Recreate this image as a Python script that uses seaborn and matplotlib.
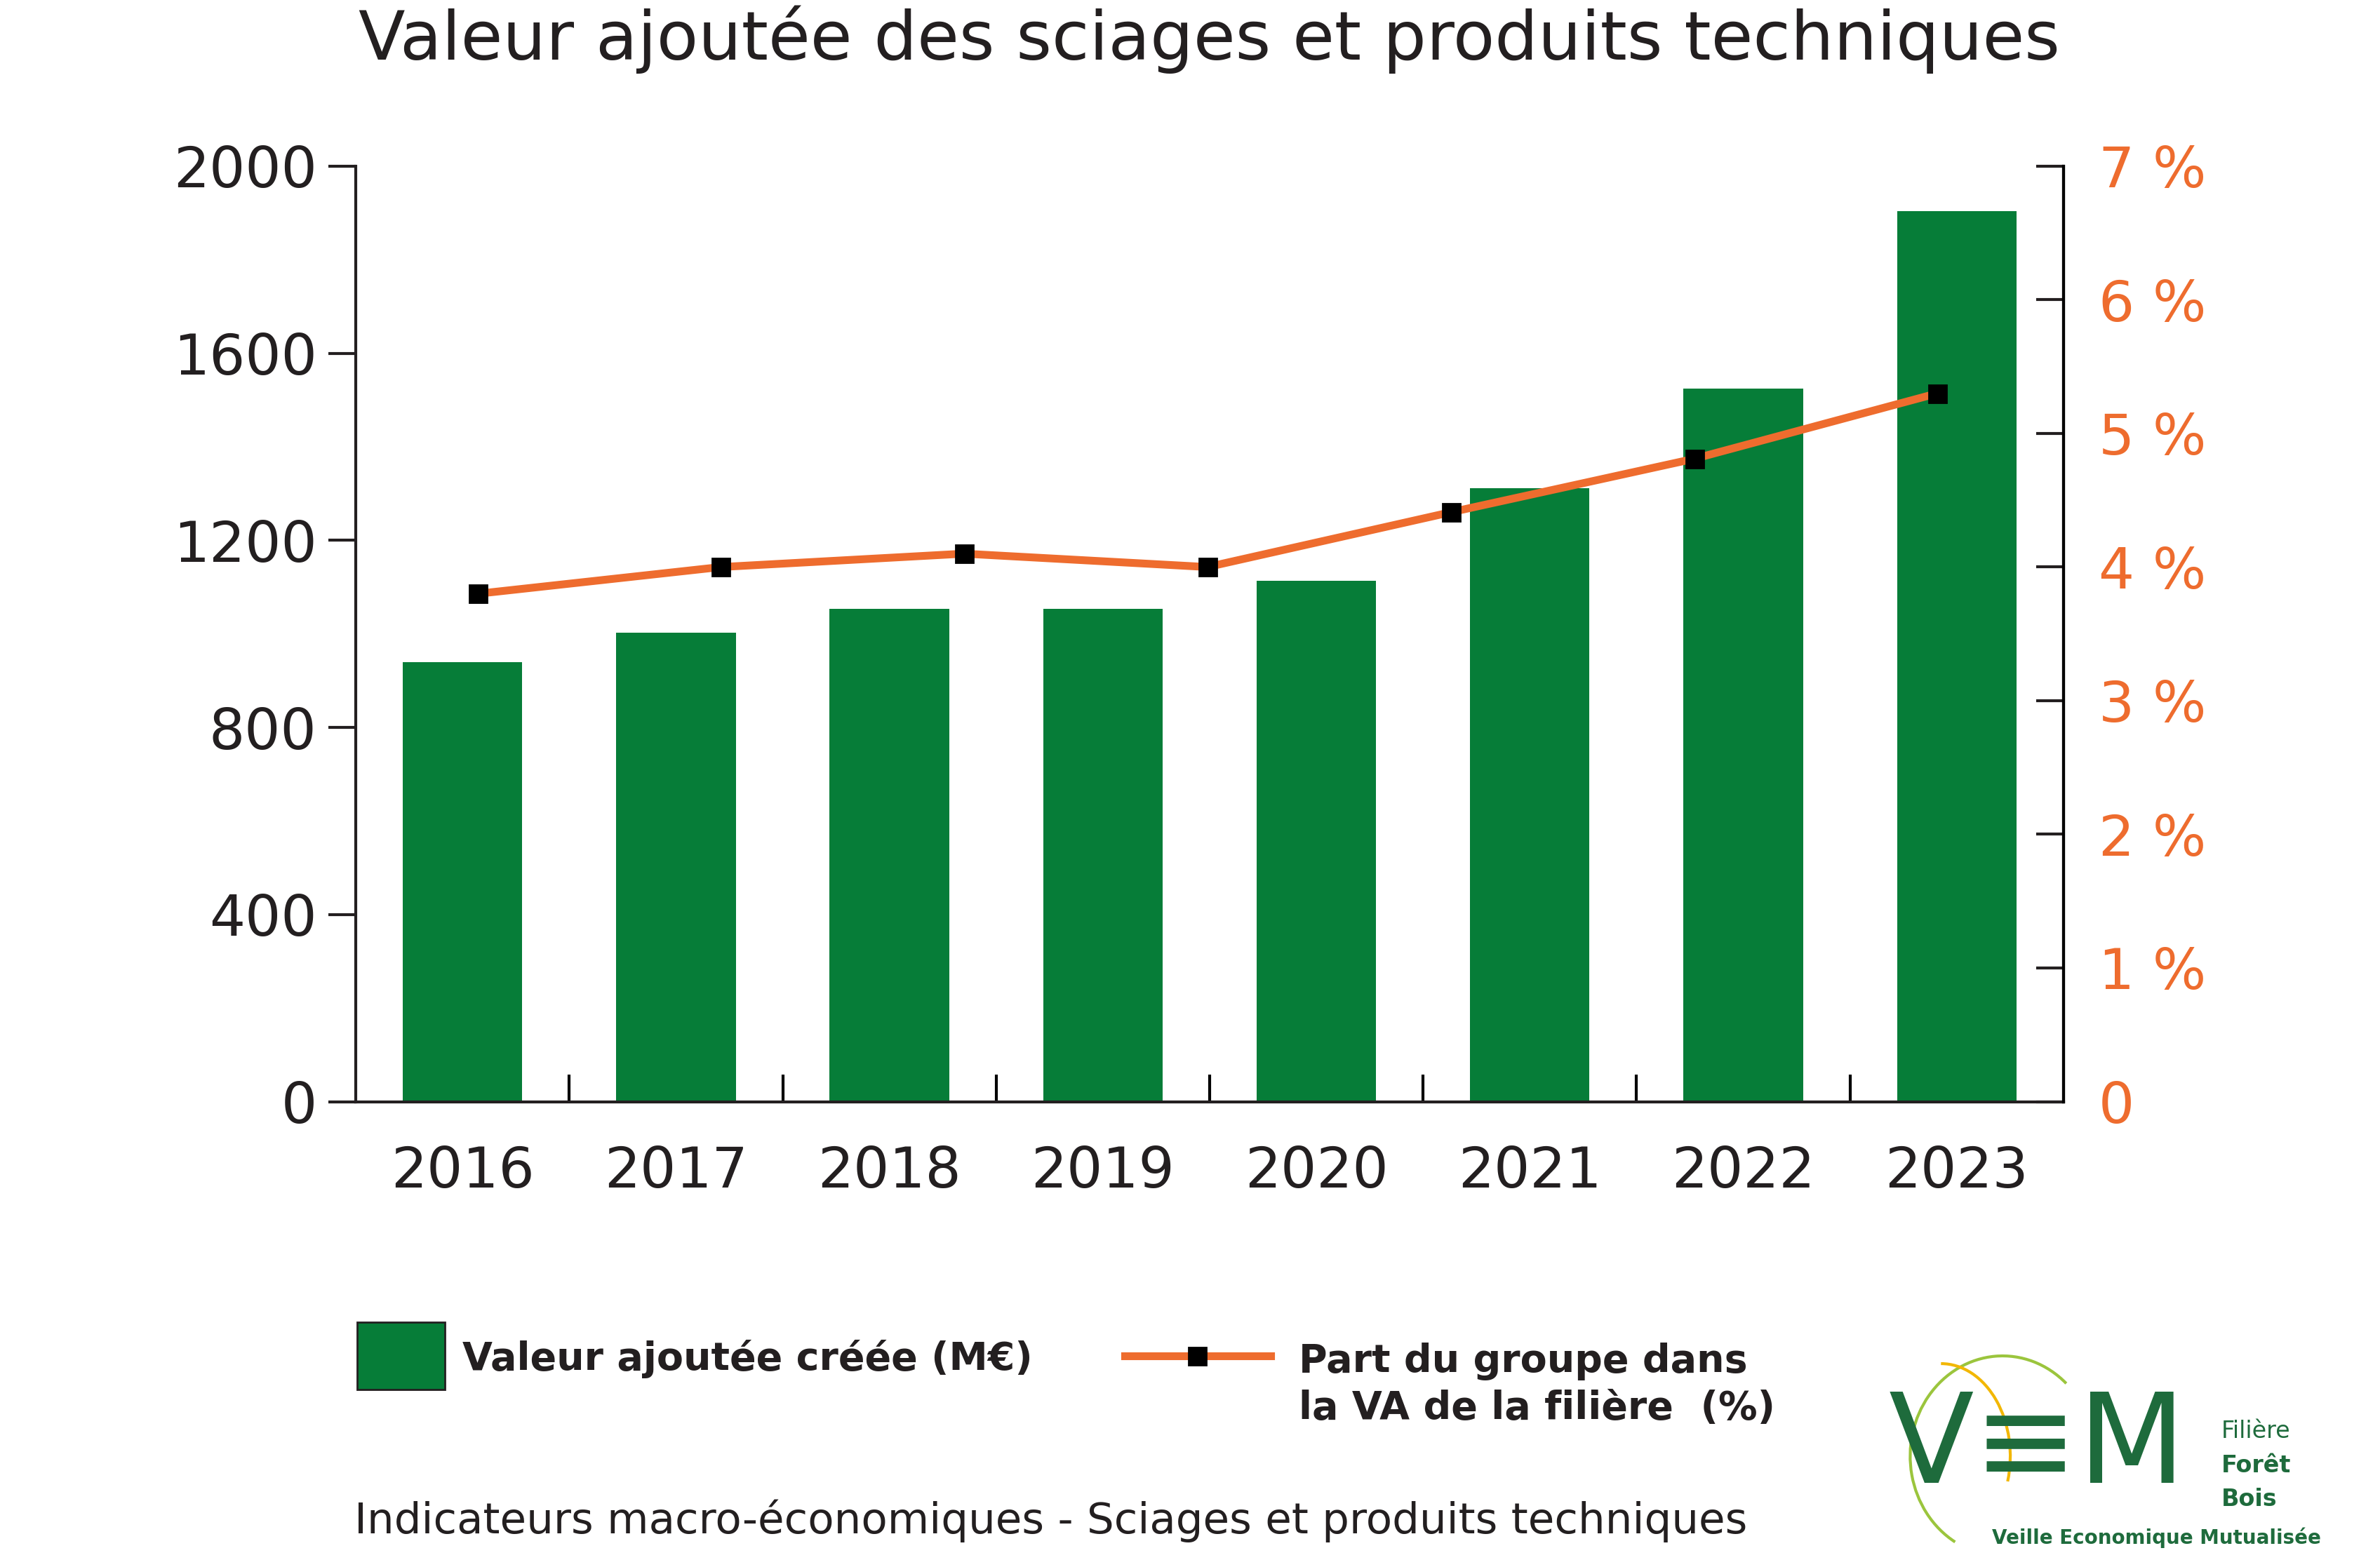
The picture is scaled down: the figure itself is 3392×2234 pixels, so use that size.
import matplotlib
matplotlib.use("Agg")
import matplotlib.pyplot as plt
import seaborn as sns
import numpy as np
import pandas as pd
from matplotlib.patches import Rectangle, Arc
from matplotlib.lines import Line2D

years = ["2016", "2017", "2018", "2019", "2020", "2021", "2022", "2023"]
va_values = [939, 1002, 1054, 1054, 1114, 1311, 1525, 1904]
share_values = [3.80, 4.00, 4.10, 4.00, 4.41, 4.81, 5.30]
pct_ticks = ["0", "1 %", "2 %", "3 %", "4 %", "5 %", "6 %", "7 %"]

GREEN = "#067D38"
ORANGE = "#EE6C2E"
DARK = "#231F20"
plt.rcParams["font.family"] = "DejaVu Sans"

fig = plt.figure(figsize=(16.96, 11.17), dpi=200)
ax = fig.add_axes([0.1495, 0.297, 0.7175, 0.597])

df = pd.DataFrame({"year": years, "va": va_values})
sns.barplot(data=df, x="year", y="va", color=GREEN, saturation=1, width=0.56, ax=ax)
ax.set_xlim(-0.5, 7.5)
ax.set_ylim(0, 2000)
ax.set_yticks([0, 400, 800, 1200, 1600, 2000])
ax.tick_params(axis="y", labelsize=29, length=14, width=1.5, colors=DARK, pad=6)
ax.tick_params(axis="x", labelsize=29, length=0, pad=22, colors=DARK)
ax.set_xticks(np.arange(0.5, 7, 1), minor=True)
ax.tick_params(axis="x", which="minor", direction="in", length=14, width=1.5)
ax.set_xlabel("")
ax.set_ylabel("")
ax.spines["top"].set_visible(False)
for s in ["left", "bottom", "right"]:
    ax.spines[s].set_linewidth(1.5)
    ax.spines[s].set_color(DARK)

ax2 = ax.twinx()
xs = np.linspace(0.07, 6.91, len(share_values))
ax2.plot(xs, share_values, color=ORANGE, lw=4, marker="s", ms=9,
         mfc="black", mec="black", zorder=5)
ax2.set_ylim(0, 7)
ax2.set_yticks(range(8))
ax2.set_yticklabels(pct_ticks)
ax2.tick_params(axis="y", direction="in", length=14, width=1.5, labelsize=29,
                labelcolor=ORANGE, color=DARK, pad=18)
for s in ["top", "left", "bottom"]:
    ax2.spines[s].set_visible(False)
ax2.spines["right"].set_linewidth(1.5)

fig.text(0.508, 0.975, "Valeur ajoutée des sciages et produits techniques",
         ha="center", va="center", fontsize=35, color=DARK)

# legend
fig.patches.append(Rectangle((232/1545, 1-902/1017), 57/1545, 44/1017,
                             transform=fig.transFigure, facecolor=GREEN,
                             edgecolor=DARK, lw=1))
fig.text(300/1545, 1-882/1017, "Valeur ajoutée créée (M€)", fontsize=20,
         fontweight="bold", color=DARK, va="center")
fig.lines.append(Line2D([730/1545, 825/1545], [1-880/1017]*2, transform=fig.transFigure,
                        color=ORANGE, lw=4))
fig.lines.append(Line2D([777/1545], [1-880/1017], transform=fig.transFigure,
                        marker="s", ms=9, color="black"))
fig.text(843/1545, 1-899/1017, "Part du groupe dans\nla VA de la filière  (%)",
         fontsize=20, fontweight="bold", color=DARK, va="center", linespacing=1.3)
fig.text(230/1545, 1-987/1017,
         "Indicateurs macro-économiques - Sciages et produits techniques",
         fontsize=22, color=DARK, va="center")

# logo
LG = "#1E6B3C"
fig.text(1226/1545, 1-940/1017, "V\u2261M", fontsize=64, color=LG, va="center",
         fontfamily="Liberation Sans Narrow")
fig.patches.append(Arc((1300/1545, 1-945/1017), 120/1545, 130/1017, theta1=60, theta2=250,
                       transform=fig.transFigure, color="#9BC53D", lw=1.5))
fig.patches.append(Arc((1260/1545, 1-945/1017), 90/1545, 120/1017, theta1=-30, theta2=90,
                       transform=fig.transFigure, color="#F2B705", lw=1.5))
fig.text(1442/1545, 1-929/1017, "Filière", fontsize=12, color=LG, va="center")
fig.text(1442/1545, 1-951/1017, "Forêt", fontsize=12, color=LG, va="center", fontweight="bold")
fig.text(1442/1545, 1-973/1017, "Bois", fontsize=12, color=LG, va="center", fontweight="bold")
fig.text(1293/1545, 1-998/1017, "Veille Economique Mutualisée", fontsize=10, color=LG,
         va="center", fontweight="bold")

fig.savefig("out.png", dpi=200, facecolor="white")
